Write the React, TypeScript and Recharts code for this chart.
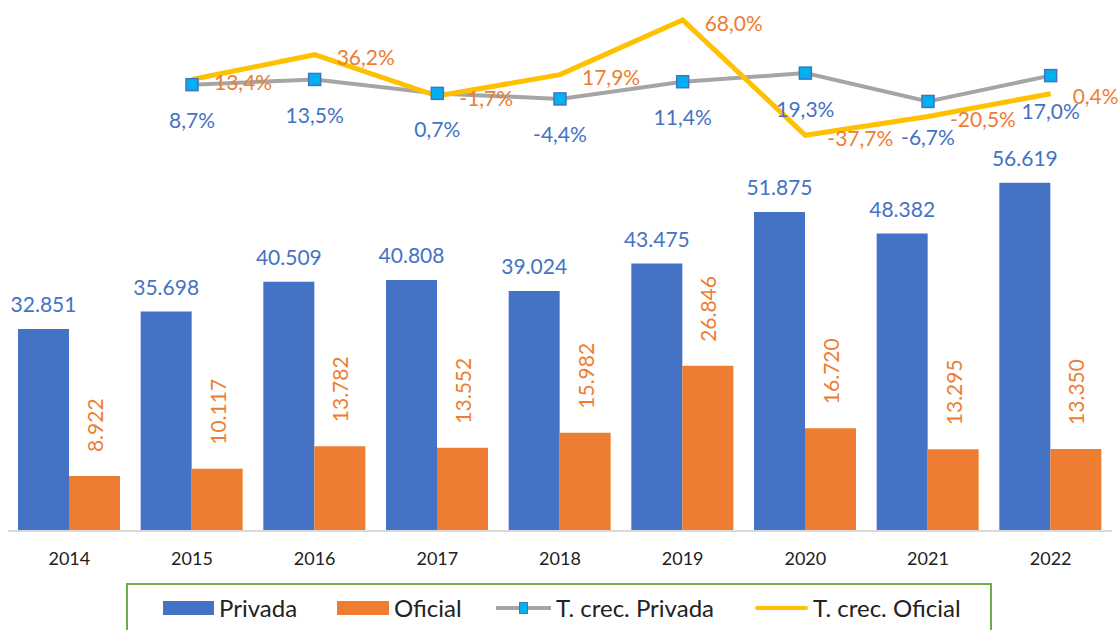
import React from "react";
import { ComposedChart, Bar, Line, XAxis, YAxis, LabelList } from "recharts";

const years = ["2014", "2015", "2016", "2017", "2018", "2019", "2020", "2021", "2022"];
const privada = [32851, 35698, 40509, 40808, 39024, 43475, 51875, 48382, 56619];
const oficial = [8922, 10117, 13782, 13552, 15982, 26846, 16720, 13295, 13350];
const crecPrivada = [null, 8.7, 13.5, 0.7, -4.4, 11.4, 19.3, -6.7, 17.0];
const crecOficial = [null, 13.4, 36.2, -1.7, 17.9, 68.0, -37.7, -20.5, 0.4];

const BLUE = "#4472C4";
const ORANGE = "#ED7D31";
const GRAY = "#A5A5A5";
const YELLOW = "#FFC000";
const CYAN = "#00B0F0";
const FONT = "Lato, 'Noto Sans', sans-serif";

const data = years.map((y, i) => ({
  year: y,
  privada: privada[i],
  oficial: oficial[i],
  crecPrivada: crecPrivada[i],
  crecOficial: crecOficial[i],
}));

const miles = (n: number) => String(n).replace(/\B(?=(\d{3})+(?!\d))/g, ".");
const pct = (v: number) => v.toFixed(1).replace(".", ",") + "%";

// etiqueta encima de la barra azul
const PrivadaLabel = (p: any) => {
  const { x, y, width, value } = p;
  return (
    <text x={x + width / 2} y={y - 25} textAnchor="middle" dominantBaseline="central"
      fill={BLUE} fontSize={21} fontFamily={FONT}>
      {miles(value)}
    </text>
  );
};

// etiqueta vertical encima de la barra naranja
const OficialLabel = (p: any) => {
  const { x, y, width, value } = p;
  const cx = x + width / 2;
  const cy = y - 24;
  return (
    <text x={cx} y={cy} transform={`rotate(-90 ${cx} ${cy})`} textAnchor="start"
      dominantBaseline="central" fill={ORANGE} fontSize={21} fontFamily={FONT}>
      {miles(value)}
    </text>
  );
};

const CrecPrivadaLabel = (p: any) => {
  const { x, y, value } = p;
  if (value === null || value === undefined) return null;
  return (
    <text x={x} y={y + 35} textAnchor="middle" dominantBaseline="central"
      fill={BLUE} fontSize={21} fontFamily={FONT}>
      {pct(value)}
    </text>
  );
};

const CrecOficialLabel = (p: any) => {
  const { x, y, value } = p;
  if (value === null || value === undefined) return null;
  return (
    <text x={x + 22} y={y + 2} textAnchor="start" dominantBaseline="central"
      fill={ORANGE} fontSize={21} fontFamily={FONT}>
      {pct(value)}
    </text>
  );
};

const SquareDot = (p: any) => {
  const { cx, cy, payload } = p;
  if (payload.crecPrivada === null || cx == null || cy == null) return null;
  return <rect x={cx - 6} y={cy - 6} width={12} height={12} fill={CYAN} stroke={BLUE} strokeWidth={1.5} />;
};

const legendText: React.CSSProperties = {
  position: "absolute",
  top: 0,
  height: 46,
  lineHeight: "46px",
  fontSize: 24,
  fontFamily: FONT,
  color: "#222",
  whiteSpace: "nowrap",
};

function Leyenda() {
  return (
    <div style={{ position: "absolute", left: 126, top: 583, width: 862, height: 48, border: "2px solid #70AD47" }}>
      <div style={{ position: "absolute", left: 35, top: 16, width: 51, height: 14, background: BLUE }} />
      <span style={{ ...legendText, left: 91 }}>Privada</span>
      <div style={{ position: "absolute", left: 209, top: 16, width: 52, height: 14, background: ORANGE }} />
      <span style={{ ...legendText, left: 266 }}>Oficial</span>
      <div style={{ position: "absolute", left: 368, top: 21, width: 55, height: 4, background: GRAY }} />
      <div style={{ position: "absolute", left: 391, top: 17, width: 9, height: 12, background: CYAN, border: `1px solid ${BLUE}`, boxSizing: "border-box" }} />
      <span style={{ ...legendText, left: 428 }}>T. crec. Privada</span>
      <div style={{ position: "absolute", left: 627, top: 21, width: 53, height: 4, background: YELLOW, borderRadius: 2 }} />
      <span style={{ ...legendText, left: 685 }}>T. crec. Oficial</span>
    </div>
  );
}

export default function App() {
  return (
    <div style={{ position: "absolute", left: 0, top: 0, width: 1119, height: 630, background: "#fff", overflow: "hidden" }}>
      <ComposedChart width={1119} height={630} data={data}
        margin={{ top: 10, right: 7, left: 8, bottom: 59 }}
        barCategoryGap={10} barGap={0}>
        <XAxis dataKey="year" tickLine={false} tickSize={0} tickMargin={21}
          axisLine={{ stroke: "#D9D9D9", strokeWidth: 2 }} height={40}
          tick={{ fill: "#222", fontSize: 18, fontFamily: FONT }} interval={0} />
        <YAxis yAxisId="bars" hide domain={[0, 84700]} allowDataOverflow />
        <YAxis yAxisId="pct" hide orientation="right" domain={[-400.8, 77.2]} allowDataOverflow />
        <Bar yAxisId="bars" dataKey="privada" name="Privada" fill={BLUE} isAnimationActive={false}>
          <LabelList dataKey="privada" content={PrivadaLabel} />
        </Bar>
        <Bar yAxisId="bars" dataKey="oficial" name="Oficial" fill={ORANGE} isAnimationActive={false}>
          <LabelList dataKey="oficial" content={OficialLabel} />
        </Bar>
        <Line yAxisId="pct" dataKey="crecPrivada" name="T. crec. Privada" stroke={GRAY} strokeWidth={4}
          dot={<SquareDot />} activeDot={false} isAnimationActive={false}>
          <LabelList dataKey="crecPrivada" content={CrecPrivadaLabel} />
        </Line>
        <Line yAxisId="pct" dataKey="crecOficial" name="T. crec. Oficial" stroke={YELLOW} strokeWidth={5}
          dot={false} activeDot={false} isAnimationActive={false}>
          <LabelList dataKey="crecOficial" content={CrecOficialLabel} />
        </Line>
      </ComposedChart>
      <Leyenda />
    </div>
  );
}
